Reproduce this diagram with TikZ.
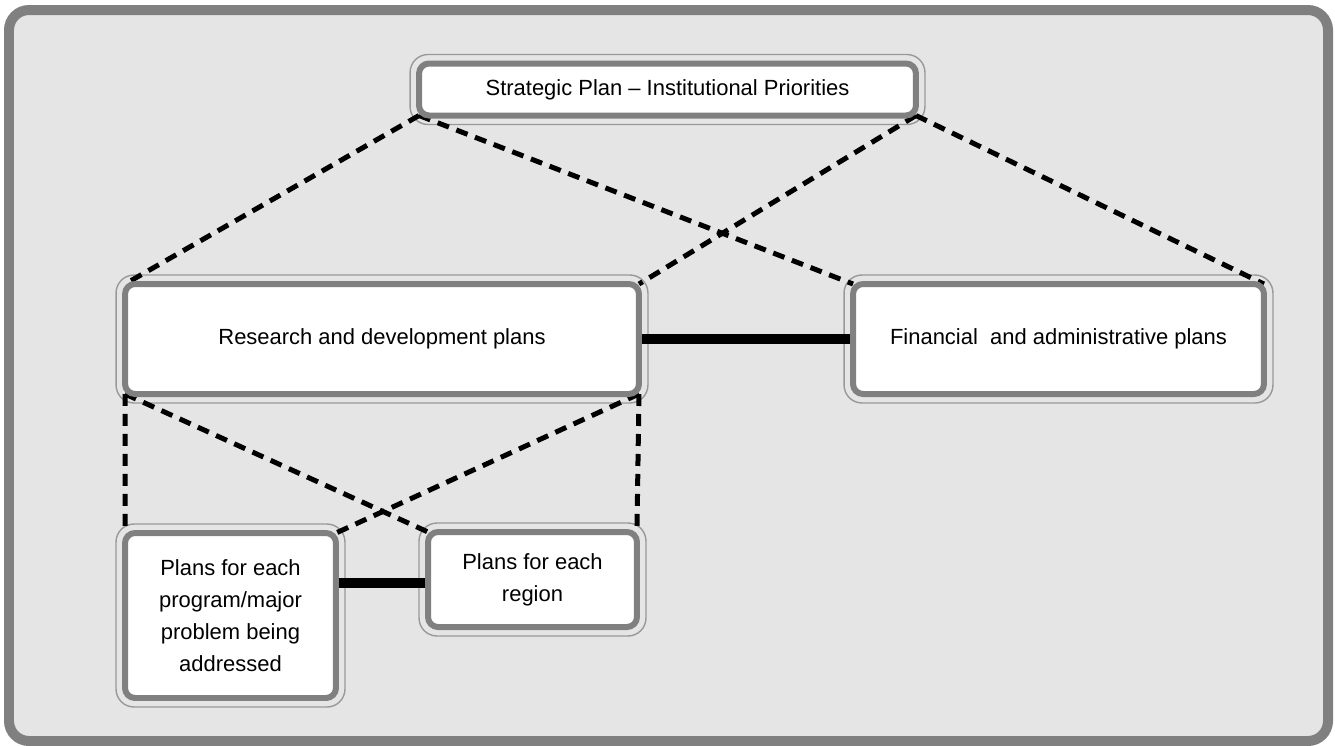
\documentclass[tikz,border=0pt]{standalone}
\usepackage{fontspec}
\setmainfont{Liberation Sans}
\usetikzlibrary{backgrounds}

\tikzset{
  plan/.style={draw=gray, line width=0.12cm, fill=white, rounded corners=0.2cm,
    inner sep=0pt, outer sep=0pt, align=center,
    font=\fontsize{12.5}{18.1}\selectfont},
  rim/.style={draw=gray!80, line width=0.8pt, rounded corners=0.36cm},
  tie/.style={line width=0.2cm},
  dashlink/.style={line width=0.1cm, dash pattern=on 0.24cm off 0.16cm},
}

\begin{document}
\begin{tikzpicture}[x=0.02cm, y=-0.02cm]
\useasboundingbox (0,0) rectangle (1335,745);

\node[plan, minimum width=9.94cm, minimum height=1.04cm] (strat) at (667.5,89.5) {Strategic Plan -- Institutional Priorities};
\node[plan, minimum width=10.28cm, minimum height=2.2cm] (rnd) at (382,339) {Research and development plans};
\node[plan, minimum width=8.22cm, minimum height=2.2cm] (fin) at (1058.5,339) {Financial\ \ and administrative plans};
\node[plan, minimum width=4.22cm, minimum height=3.3cm] (prog) at (230.5,615.5) {Plans for each\\program/major\\problem being\\addressed};
\node[plan, minimum width=4.18cm, minimum height=1.9cm] (reg) at (532.5,579.5) {Plans for each\\region};

\begin{pgfonlayer}{background}
\draw[line width=0.2cm, draw=gray, fill=gray!20, rounded corners=0.4cm] (9,10) rectangle (1328,741);
\foreach \n in {strat,rnd,fin,prog,reg}
  \draw[rim] ([shift={(-9,-9)}]\n.north west) rectangle ([shift={(9,9)}]\n.south east);
\draw[tie] (rnd.east) -- (fin.west);
\draw[tie] ([shift={(0,3.5)}]prog.east |- reg.west) -- ([shift={(0,3.5)}]reg.west);
%\draw[dashlink] (strat.south) -- (rnd.north);
\draw[dashlink] (strat.south west) -- (rnd.north west);
\draw[dashlink] (strat.south west) -- (fin.north west);
\draw[dashlink] (strat.south east) -- (rnd.north east);
\draw[dashlink] (strat.south east) -- (fin.north east);
\draw[dashlink] (rnd.south west) -- (prog.north west);
\draw[dashlink] (rnd.south west) -- (reg.north west);
\draw[dashlink] (rnd.south east) -- (prog.north east);
\draw[dashlink] (rnd.south east) -- (reg.north east);
\end{pgfonlayer}
\end{tikzpicture}
\end{document}
